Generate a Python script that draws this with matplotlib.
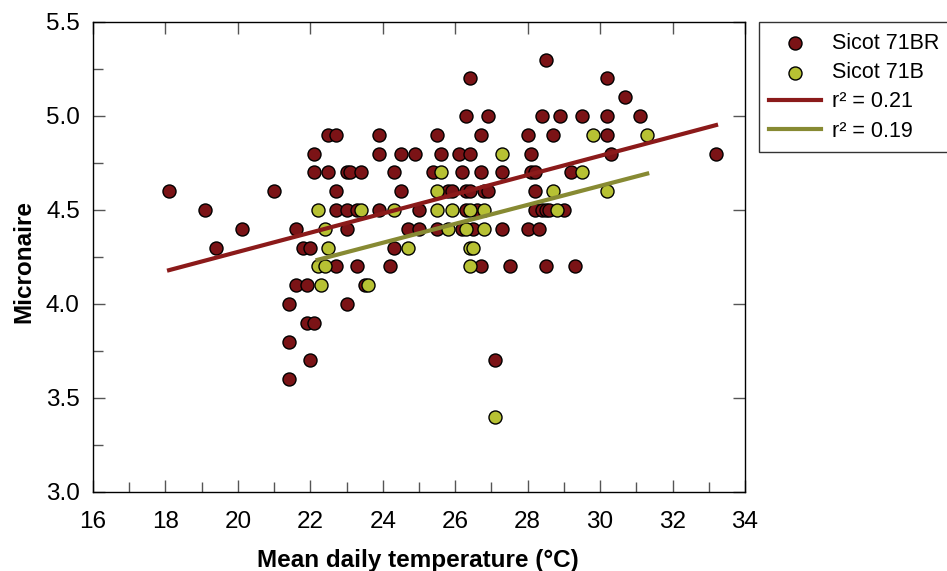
import numpy as np
import matplotlib
matplotlib.use("Agg")
import matplotlib.pyplot as plt
from matplotlib.ticker import MultipleLocator

plt.rcParams["font.family"] = ["Liberation Sans", "DejaVu Sans"]

# ==============================
# DATA
# ==============================
# Sicot 71BR (temperature, micronaire)
br_temp = [28.5,
           26.4, 30.2,
           30.7,
           26.3, 26.9, 28.4, 28.9, 29.5, 30.2, 31.1,
           22.5, 22.7, 23.9, 25.5, 26.7, 28.0, 28.7, 30.2,
           22.1, 23.9, 24.5, 24.9, 25.6, 26.1, 26.4, 28.1, 30.3, 33.2,
           22.1, 22.5, 23.0, 23.1, 23.4, 24.3, 25.4, 26.2, 26.7, 27.3, 28.1, 28.2, 29.2,
           18.1, 21.0, 22.7, 24.5, 25.8, 25.9, 26.3, 26.4, 26.8, 26.9, 28.2,
           19.1, 22.7, 23.0, 23.3, 23.9, 25.0, 26.3, 26.6, 28.2, 28.4, 28.5, 28.6, 29.0,
           20.1, 21.6, 23.0, 24.7, 25.0, 25.5, 26.2, 26.5, 27.3, 28.0, 28.3,
           19.4, 21.8, 22.0, 24.3,
           22.7, 23.3, 24.2, 26.7, 27.5, 28.5, 29.3,
           21.6, 21.9, 23.5,
           21.4, 23.0,
           21.9, 22.1,
           21.4,
           22.0, 27.1,
           21.4]
br_mic = [5.3,
          5.2, 5.2,
          5.1,
          5.0, 5.0, 5.0, 5.0, 5.0, 5.0, 5.0,
          4.9, 4.9, 4.9, 4.9, 4.9, 4.9, 4.9, 4.9,
          4.8, 4.8, 4.8, 4.8, 4.8, 4.8, 4.8, 4.8, 4.8, 4.8,
          4.7, 4.7, 4.7, 4.7, 4.7, 4.7, 4.7, 4.7, 4.7, 4.7, 4.7, 4.7, 4.7,
          4.6, 4.6, 4.6, 4.6, 4.6, 4.6, 4.6, 4.6, 4.6, 4.6, 4.6,
          4.5, 4.5, 4.5, 4.5, 4.5, 4.5, 4.5, 4.5, 4.5, 4.5, 4.5, 4.5, 4.5,
          4.4, 4.4, 4.4, 4.4, 4.4, 4.4, 4.4, 4.4, 4.4, 4.4, 4.4,
          4.3, 4.3, 4.3, 4.3,
          4.2, 4.2, 4.2, 4.2, 4.2, 4.2, 4.2,
          4.1, 4.1, 4.1,
          4.0, 4.0,
          3.9, 3.9,
          3.8,
          3.7, 3.7,
          3.6]

# Sicot 71B (temperature, micronaire)
b_temp = [29.8, 31.3,
          27.3,
          25.6, 29.5,
          25.5, 28.7, 30.2,
          22.2, 23.4, 24.3, 25.5, 25.9, 26.4, 26.8, 28.8,
          22.4, 25.8, 26.3, 26.8,
          22.5, 24.7, 26.4, 26.5,
          22.2, 22.4, 26.4,
          22.3, 23.6,
          27.1]
b_mic = [4.9, 4.9,
         4.8,
         4.7, 4.7,
         4.6, 4.6, 4.6,
         4.5, 4.5, 4.5, 4.5, 4.5, 4.5, 4.5, 4.5,
         4.4, 4.4, 4.4, 4.4,
         4.3, 4.3, 4.3, 4.3,
         4.2, 4.2, 4.2,
         4.1, 4.1,
         3.4]

# regression lines (slope, intercept) as drawn in the figure
br_fit = (0.0511, 3.255)
b_fit = (0.0504, 3.116)
br_r2 = 0.21
b_r2 = 0.19

# ==============================
# PLOT
# ==============================
red_fill = "#7b1316"
yel_fill = "#b7c133"
red_line = "#8b1a1a"
olive_line = "#878a33"

fig = plt.figure(figsize=(9.47, 5.71), dpi=100)
ax = fig.add_axes([0.0982, 0.1384, 0.6885, 0.8231])

ax.scatter(br_temp, br_mic, s=88, color=red_fill, edgecolor="black",
           linewidth=1.0, zorder=3, label="Sicot 71BR")
ax.scatter(b_temp, b_mic, s=88, color=yel_fill, edgecolor="black",
           linewidth=1.0, zorder=4, label="Sicot 71B")

xs = np.array([min(br_temp), max(br_temp)])
ax.plot(xs, br_fit[0] * xs + br_fit[1], color=red_line, lw=3,
        zorder=5, label=f"r\u00b2 = {br_r2:.2f}")
xs = np.array([min(b_temp), max(b_temp)])
ax.plot(xs, b_fit[0] * xs + b_fit[1], color=olive_line, lw=3,
        zorder=5, label=f"r\u00b2 = {b_r2:.2f}")

ax.set_xlim(16, 34)
ax.set_ylim(3.0, 5.5)
ax.xaxis.set_major_locator(MultipleLocator(2))
ax.xaxis.set_minor_locator(MultipleLocator(1))
ax.yaxis.set_major_locator(MultipleLocator(0.5))
ax.yaxis.set_minor_locator(MultipleLocator(0.25))
ax.yaxis.set_major_formatter(plt.FormatStrFormatter("%.1f"))

ax.tick_params(which="both", direction="in", width=1,
               color="#555555", labelsize=17.5)
ax.tick_params(which="major", length=8.6, top=True, right=True)
ax.tick_params(which="minor", length=7.2)
ax.tick_params(axis="y", which="major", pad=9.5)
ax.tick_params(axis="x", which="major", pad=14)
for sp in ax.spines.values():
    sp.set_linewidth(1.0)

ax.set_xlabel("Mean daily temperature (\u00b0C)", fontsize=17.5,
              fontweight="bold")
ax.set_ylabel("Micronaire", fontsize=17.5, fontweight="bold")
ax.xaxis.set_label_coords(0.4977, -0.122)
ax.yaxis.set_label_coords(-0.089, 0.49)

leg = ax.legend(loc="upper left", bbox_to_anchor=(0.801, 0.961),
                bbox_transform=fig.transFigure, fontsize=15.5,
                frameon=True, fancybox=False, edgecolor="black",
                handlelength=2.4, handletextpad=0.5, labelspacing=0.38,
                borderpad=0.5, borderaxespad=0)
leg.get_frame().set_linewidth(1.0)

plt.savefig("out.png", dpi=100)
